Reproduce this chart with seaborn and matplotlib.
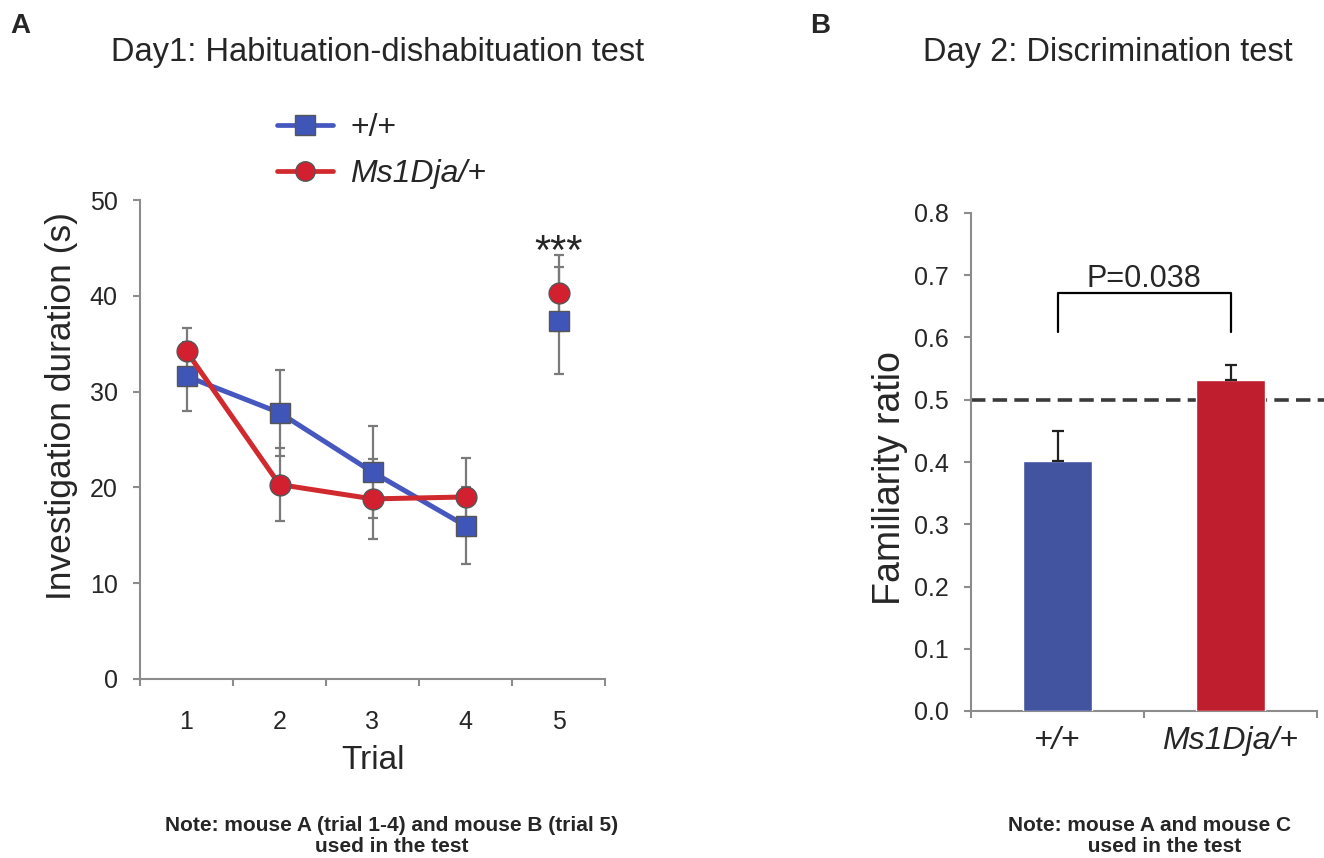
import numpy as np
import pandas as pd
import matplotlib
matplotlib.use("Agg")
import matplotlib.pyplot as plt
from matplotlib.lines import Line2D
import seaborn as sns

sns.set_style("white")
plt.rcParams['font.family'] = ['Liberation Sans', 'DejaVu Sans']

# ---------------- data ----------------
trials = [1, 2, 3, 4, 5]
wt_mean = [31.6, 27.8, 21.6, 16.0, 37.4]
wt_sem = [3.6, 4.5, 4.8, 4.0, 5.6]
ms_mean = [34.2, 20.3, 18.8, 19.0, 40.3]
ms_sem = [2.4, 3.8, 4.2, 4.1, 4.0]
segments = ["hab", "hab", "hab", "hab", "dishab"]

groups = ["+/+", "Ms1Dja/+"]
ratio_mean = [0.401, 0.531]
ratio_sem = [0.048, 0.025]
chance_level = 0.5
p_text = "P=0.038"

blue_line = "#4657c0"
red_line = "#d02a2e"
blue_mark = "#3f56b8"
red_mark = "#d32030"
blue_bar = "#4254a0"
red_bar = "#be1e2d"
spine_col = "#8c8c8c"
err_col = "#7a7a7a"

df = pd.DataFrame({
    "trial": trials * 2,
    "mean": wt_mean + ms_mean,
    "sem": wt_sem + ms_sem,
    "genotype": ["+/+"] * 5 + ["Ms1Dja/+"] * 5,
    "segment": segments * 2,
})

fig = plt.figure(figsize=(13.24, 8.58), dpi=100)

# ---------------- Panel A ----------------
axA = fig.add_axes([140 / 1324, (858 - 679) / 858, 465 / 1324, 479 / 858])
for g in groups:
    sub = df[df.genotype == g]
    axA.errorbar(sub["trial"], sub["mean"], yerr=sub["sem"], fmt="none",
                 ecolor=err_col, elinewidth=1.6, capsize=3.8, capthick=1.6, zorder=1)

sns.lineplot(data=df, x="trial", y="mean", hue="genotype", style="genotype",
             units="segment", estimator=None, ax=axA,
             palette={"+/+": blue_line, "Ms1Dja/+": red_line},
             markers={"+/+": "s", "Ms1Dja/+": "o"}, dashes=False,
             linewidth=3.6, markersize=15, markeredgecolor="#555555",
             markeredgewidth=1.0, legend=False, zorder=3)
for ln in axA.get_lines():
    if ln.get_marker() == "s":
        ln.set_markerfacecolor(blue_mark)
    elif ln.get_marker() == "o":
        ln.set_markerfacecolor(red_mark)

axA.set_xlim(0.5, 5.5)
axA.set_ylim(0, 50)
axA.set_xticks(np.arange(0.5, 6.0, 1.0))
axA.set_xticklabels([])
axA.set_xticks(trials, minor=True)
axA.set_xticklabels([str(t) for t in trials], minor=True, fontsize=18)
axA.tick_params(axis="x", which="minor", length=0, pad=22)
axA.tick_params(axis="x", which="major", length=5, width=1.5, color=spine_col, direction="out")
axA.set_yticks(np.arange(0, 51, 10))
axA.tick_params(axis="y", length=5, width=1.5, color=spine_col, direction="out", labelsize=18, pad=11)
axA.tick_params(bottom=True, left=True)
for s in ["top", "right"]:
    axA.spines[s].set_visible(False)
for s in ["left", "bottom"]:
    axA.spines[s].set_color(spine_col)
    axA.spines[s].set_linewidth(1.5)
axA.set_xlabel("Trial", fontsize=24, labelpad=8)
axA.set_ylabel("Investigation duration (s)", fontsize=25.5)
axA.yaxis.set_label_coords(-0.133, 0.57)
axA.text(5, 43.3, "***", ha="center", va="baseline", fontsize=30)

handles = [
    Line2D([], [], color=blue_line, lw=3.4, marker="s", markersize=14,
           markerfacecolor=blue_mark, markeredgecolor="#555555"),
    Line2D([], [], color=red_line, lw=3.4, marker="o", markersize=14,
           markerfacecolor=red_mark, markeredgecolor="#555555"),
]
leg = fig.legend(handles, groups, loc="center left",
                 bbox_to_anchor=(277 / 1324, (858 - 151) / 858), frameon=False, fontsize=23,
                 handlelength=1.74, labelspacing=0.5, handletextpad=0.55,
                 borderaxespad=0, borderpad=0)
leg.get_texts()[1].set_style("italic")

fig.text(378 / 1324, (858 - 52) / 858, "Day1: Habituation-dishabituation test",
         ha="center", va="center", fontsize=23.5)
fig.text(392 / 1324, (858 - 836) / 858, "Note: mouse A (trial 1-4) and mouse B (trial 5)\nused in the test",
         ha="center", va="center", fontsize=15, fontweight="bold", linespacing=1.1)

# ---------------- Panel B ----------------
axB = fig.add_axes([971 / 1324, (858 - 711) / 858, 346 / 1324, 498 / 858])
dfb = pd.DataFrame({"group": groups, "ratio": ratio_mean, "sem": ratio_sem})
sns.barplot(data=dfb, x="group", y="ratio", hue="group",
            palette={"+/+": blue_bar, "Ms1Dja/+": red_bar},
            width=0.4, ax=axB, legend=False, zorder=3, saturation=1)
axB.errorbar(range(len(groups)), ratio_mean, yerr=[[0] * len(groups), ratio_sem],
             fmt="none", ecolor="#222222", elinewidth=1.6, capsize=4.2, capthick=1.6, zorder=4)
axB.axhline(chance_level, xmin=0, xmax=353 / 346, color="#3a3a3a", lw=2.6,
            dashes=(4, 2), zorder=2, clip_on=False)

# significance bracket
yb0, yb1 = 0.609, 0.672
axB.plot([0, 0, 1, 1], [yb0, yb1, yb1, yb0], color="black", lw=1.6, zorder=5)
axB.text(0.5, 0.681, p_text, ha="center", va="baseline", fontsize=22)

axB.set_xlim(-0.5, 1.5)
axB.set_ylim(0, 0.8)
axB.set_xticks([-0.5, 0.5, 1.5])
axB.set_xticklabels([])
axB.set_xticks([0, 1], minor=True)
axB.set_xticklabels(groups, minor=True, fontsize=23, style="italic")
axB.tick_params(axis="x", which="minor", length=0, pad=11)
axB.tick_params(axis="x", which="major", length=5, width=1.5, color=spine_col, direction="out")
axB.set_yticks(np.arange(0, 0.81, 0.1))
axB.set_yticklabels([f"{v:.1f}" for v in np.arange(0, 0.81, 0.1)])
axB.tick_params(axis="y", length=5, width=1.5, color=spine_col, direction="out", labelsize=18, pad=11)
axB.tick_params(bottom=True, left=True)
for s in ["top", "right"]:
    axB.spines[s].set_visible(False)
for s in ["left", "bottom"]:
    axB.spines[s].set_color(spine_col)
    axB.spines[s].set_linewidth(1.5)
axB.set_xlabel("")
axB.set_ylabel("Familiarity ratio", fontsize=27)
axB.yaxis.set_label_coords(-0.182, 0.468)

fig.text(1108 / 1324, (858 - 52) / 858, "Day 2: Discrimination test",
         ha="center", va="center", fontsize=23.5)
fig.text(1150 / 1324, (858 - 836) / 858, "Note: mouse A and mouse C\n     used in the test",
         ha="center", va="center", fontsize=15, fontweight="bold", linespacing=1.1)

fig.text(10 / 1324, (858 - 26) / 858, "A", fontsize=20, fontweight="bold", va="center")
fig.text(810 / 1324, (858 - 26) / 858, "B", fontsize=20, fontweight="bold", va="center")

fig.savefig("out.png", dpi=100)
